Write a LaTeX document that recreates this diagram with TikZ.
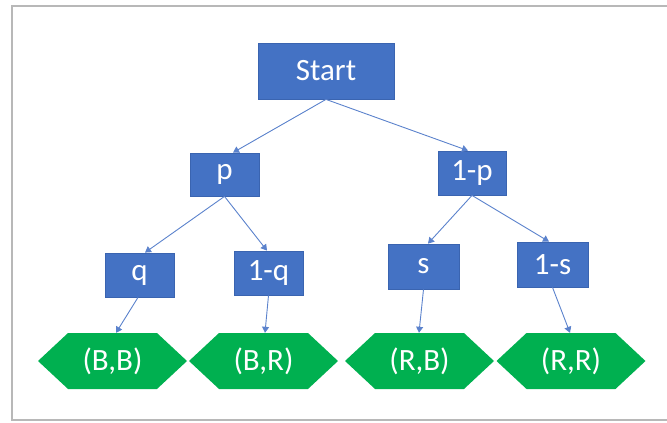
\documentclass[tikz,border=0pt]{standalone}
\usepackage{fontspec}
\setmainfont{Carlito}
\usetikzlibrary{arrows.meta,shapes.symbols}
\definecolor{boxblue}{HTML}{4472C4}
\definecolor{boxedge}{HTML}{3A64B0}
\definecolor{arrowblue}{HTML}{5B82CC}
\definecolor{hexgreen}{HTML}{00B050}
\definecolor{framegray}{HTML}{B8B8B8}
\begin{document}
\begin{tikzpicture}[x=1pt,y=-1pt,
  probbox/.style={draw=boxedge,line width=0.8pt,fill=boxblue,text=white,inner sep=0pt,
    font=\fontsize{31}{33}\selectfont},
  outcome/.style={signal,signal to=east and west,signal pointer angle=86,fill=hexgreen,
    text=white,inner sep=0pt,minimum width=149pt,minimum height=56pt,
    font=\fontsize{31}{33}\selectfont},
  conn/.style={draw=arrowblue,line width=0.9pt,-{Triangle[width=7pt,length=6pt]}}]
\useasboundingbox (0,0) rectangle (667,423);
\draw[framegray,line width=2pt] (12,421) -- (12,6) -- (667,6);
\draw[framegray,line width=2pt] (12,420) -- (667,420);

\node[probbox,minimum width=136pt,minimum height=56pt] (start) at (326,71) {Start};
\node[probbox,minimum width=69pt,minimum height=43pt] (p) at (224.5,174.5) {p};
\node[probbox,minimum width=68pt,minimum height=44pt] (np) at (472,173) {1-p};
\node[probbox,minimum width=69pt,minimum height=44pt] (q) at (139.5,275) {q};
\node[probbox,minimum width=69pt,minimum height=44pt] (nq) at (268.5,273) {1-q};
\node[probbox,minimum width=71pt,minimum height=45pt] (s) at (423.5,266.5) {s};
\node[probbox,minimum width=71pt,minimum height=45pt] (ns) at (552.5,264.5) {1-s};

\node[outcome] (bb) at (112.5,361) {(B,B)};
\node[outcome] (br) at (263.5,361) {(B,R)};
\node[outcome] (rb) at (419.5,361) {(R,B)};
\node[outcome] (rr) at (571,361) {(R,R)};

\draw[conn] (start.south) -- ([xshift=8.5pt]p.north);
\draw[conn] (start.south) -- ([xshift=-4pt]np.north);
\draw[conn] (p.south) -- ([xshift=5.5pt]q.north);
\draw[conn] (p.south) -- ([xshift=-1.5pt]nq.north);
\draw[conn] (np.south) -- ([xshift=4.5pt]s.north);
\draw[conn] (np.south) -- ([xshift=-3.5pt]ns.north);
\draw[conn] ([xshift=-1.5pt]q.south) -- ([xshift=3.5pt]bb.north);
\draw[conn] (nq.south) -- ([xshift=1.5pt]br.north);
\draw[conn] (s.south) -- ([xshift=-0.5pt]rb.north);
\draw[conn] (ns.south) -- ([xshift=-1pt]rr.north);
\end{tikzpicture}
\end{document}
